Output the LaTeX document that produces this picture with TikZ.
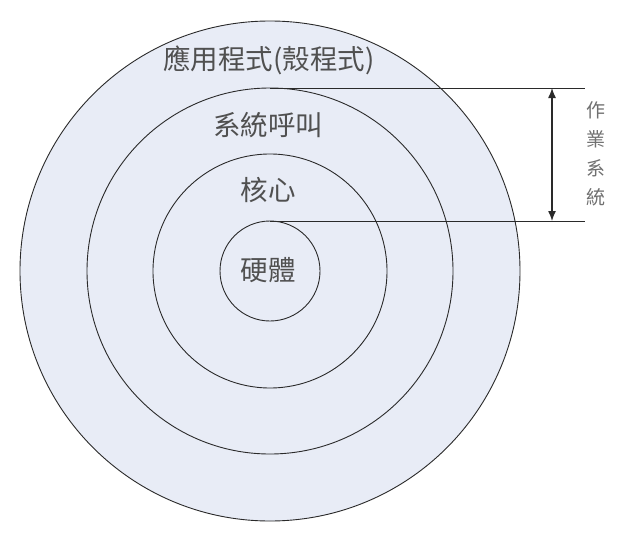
\documentclass[tikz,border=0pt]{standalone}
\usepackage{fontspec}
\newfontfamily\cjk{Noto Sans CJK TC}
\usetikzlibrary{arrows.meta}
\definecolor{ringfill}{HTML}{E8ECF6}
\definecolor{txt}{HTML}{505050}
\definecolor{sidetxt}{HTML}{707070}
\definecolor{ln}{HTML}{2A2A2A}
\begin{document}
\begin{tikzpicture}[x=1pt,y=-1pt,
  ring/.style={circle,draw=ln,line width=0.9pt,fill=ringfill,inner sep=0pt,outer sep=0pt},
  lbl/.style={font=\cjk\fontsize{27.5}{30}\selectfont,text=txt,inner sep=0pt},
  side/.style={font=\cjk\fontsize{19}{29}\selectfont,text=sidetxt,align=center,inner sep=0pt},
  guide/.style={draw=ln,line width=0.9pt},
  dim/.style={draw=ln,line width=1.3pt,{Latex[length=10pt,width=8pt]}-{Latex[length=10pt,width=8pt]}}]
\useasboundingbox (0,0) rectangle (618,535);
\fill[white] (0,0) rectangle (618,535);
\coordinate (c) at (270,271);
\node[ring,minimum size=500pt] (outer) at (c) {};
\node[ring,minimum size=366pt] (sys) at (c) {};
\node[ring,minimum size=234pt] (kern) at (c) {};
\node[ring,minimum size=100pt] (hw) at (c) {};
\coordinate (e1) at (585,88);
\coordinate (e2) at (585,221);
\coordinate (a1) at (552,88);
\coordinate (a2) at (552,221);
\draw[guide] (sys.north) -- (e1);
\draw[guide] (hw.north) -- (e2);
\draw[dim] (a1) -- (a2);
\node[lbl] (tapp) at (269,60) {應用程式(殼程式)};
\node[lbl] (tsys) at (268,125) {系統呼叫};
\node[lbl] (tkern) at (268,190) {核心};
\node[lbl] (thw) at (268,270) {硬體};
\node[side] (tos) at (596,154) {作\\業\\系\\統};
\end{tikzpicture}
\end{document}
